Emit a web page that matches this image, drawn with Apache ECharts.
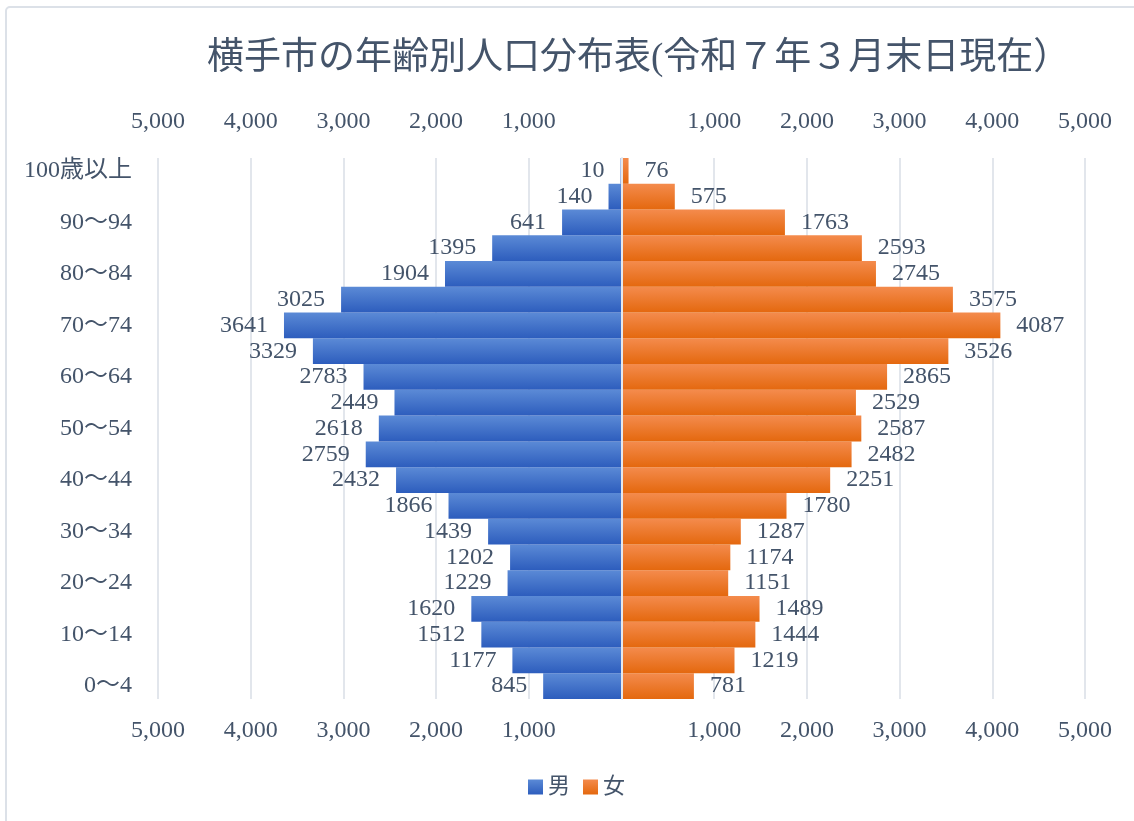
<!DOCTYPE html>
<html lang="ja" style="height: 100%">

<head>
  <meta charset="utf-8">
</head>

<body style="height: 100%; margin: 0">
  <div id="container" style="height: 100%"></div>

  <script type="text/javascript" src="https://fastly.jsdelivr.net/npm/echarts@6/dist/echarts.min.js"></script>

  <script type="text/javascript">
    // 年齢区分 (下から上へ)
    var ageGroups = ['0～4', '5～9', '10～14', '15～19', '20～24', '25～29', '30～34', '35～39',
      '40～44', '45～49', '50～54', '55～59', '60～64', '65～69', '70～74', '75～79',
      '80～84', '85～89', '90～94', '95～99', '100歳以上'];
    var male = [845, 1177, 1512, 1620, 1229, 1202, 1439, 1866, 2432, 2759, 2618, 2449,
      2783, 3329, 3641, 3025, 1904, 1395, 641, 140, 10];
    var female = [781, 1219, 1444, 1489, 1151, 1174, 1287, 1780, 2251, 2482, 2587, 2529,
      2865, 3526, 4087, 3575, 2745, 2593, 1763, 575, 76];
    var axisMax = 5000;
    var axisStep = 1000;

    var textColor = '#44546A';
    var numFont = "'Liberation Serif', 'Noto Sans CJK JP', serif";

    var dom = document.getElementById('container');
    var myChart = echarts.init(dom, null, {
      renderer: 'canvas',
      useDirtyRect: false
    });

    function fmtAxis(v) {
      if (v === 0) return '';
      return Math.abs(v).toLocaleString('en-US');
    }

    function grad(top, bottom) {
      return new echarts.graphic.LinearGradient(0, 0, 0, 1, [
        { offset: 0, color: top },
        { offset: 1, color: bottom }
      ]);
    }

    var xAxisCommon = {
      type: 'value',
      min: -axisMax,
      max: axisMax,
      interval: axisStep,
      axisLine: { show: false },
      axisTick: { show: false },
      axisLabel: {
        formatter: fmtAxis,
        color: textColor,
        fontFamily: numFont,
        fontSize: 24
      }
    };

    var option = {
      backgroundColor: '#ffffff',
      textStyle: { fontFamily: numFont },
      title: {
        text: '横手市の年齢別人口分布表(令和７年３月末日現在）',
        left: 202,
        top: 36,
        textStyle: {
          color: textColor,
          fontSize: 37,
          fontWeight: 'normal',
          fontFamily: numFont
        }
      },
      graphic: [{
        type: 'rect',
        shape: { x: 6, y: 7, width: 1140, height: 830, r: 4 },
        style: { fill: 'none', stroke: '#DCE1E8', lineWidth: 2 },
        silent: true
      }],
      legend: {
        top: 771,
        left: 523,
        itemWidth: 15,
        itemHeight: 15,
        itemGap: 13,
        icon: 'rect',
        textStyle: { color: textColor, fontSize: 22, fontFamily: numFont },
        data: ['男', '女']
      },
      grid: {
        left: 158,
        right: 49,
        top: 158,
        bottom: 122
      },
      xAxis: [
        Object.assign({}, xAxisCommon, {
          position: 'top',
          axisLabel: Object.assign({}, xAxisCommon.axisLabel, { margin: 24 }),
          splitLine: { show: true, lineStyle: { color: '#D9DEE6', width: 1.5 } }
        }),
        Object.assign({}, xAxisCommon, {
          position: 'bottom',
          axisLabel: Object.assign({}, xAxisCommon.axisLabel, { margin: 20 }),
          splitLine: { show: false }
        })
      ],
      yAxis: {
        type: 'category',
        data: ageGroups,
        z: 10,
        axisTick: { show: false },
        axisLine: { show: true, onZero: true, lineStyle: { color: '#E4E8EE', width: 2 } },
        axisLabel: {
          interval: 1,
          margin: 26,
          color: textColor,
          fontSize: 24,
          fontFamily: numFont
        }
      },
      series: [
        {
          name: '男',
          type: 'bar',
          stack: 'pop',
          barCategoryGap: '0%',
          data: male.map(function (v) { return -v; }),
          itemStyle: { color: grad('#5B8AD6', '#2D5DBD') },
          label: {
            show: true,
            position: 'left',
            distance: 16,
            color: textColor,
            fontSize: 24,
            fontFamily: numFont,
            formatter: function (p) { return String(Math.abs(p.value)); }
          }
        },
        {
          name: '女',
          type: 'bar',
          stack: 'pop',
          barCategoryGap: '0%',
          data: female,
          itemStyle: { color: grad('#F48B4D', '#E4680E') },
          label: {
            show: true,
            position: 'right',
            distance: 16,
            color: textColor,
            fontSize: 24,
            fontFamily: numFont
          }
        }
      ]
    };

    if (option && typeof option === 'object') {
      myChart.setOption(option);
    }

    window.addEventListener('resize', myChart.resize);
  </script>
</body>

</html>
